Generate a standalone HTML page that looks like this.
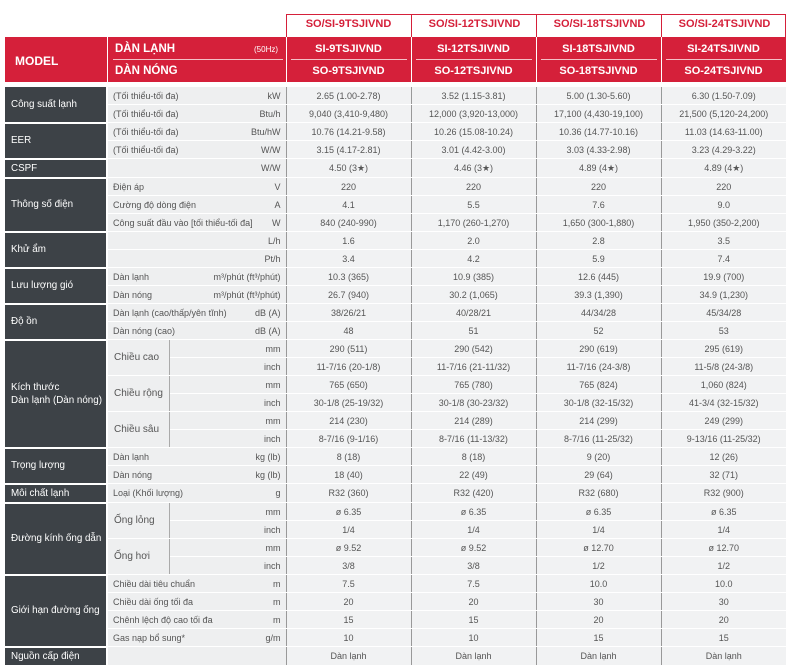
<!DOCTYPE html>
<html><head><meta charset="utf-8"><style>
body{margin:0;background:#fff;width:789px;height:668px;overflow:hidden;font-family:"Liberation Sans",sans-serif;position:relative}
.hd{position:absolute;font-weight:bold}
table{position:absolute;left:5px;top:87px;border-collapse:collapse;table-layout:fixed;width:781px;font-size:9px;color:#555}
td{height:17px;padding:0;border-bottom:1px solid #fff;background:#eeeff0;white-space:nowrap;overflow:hidden}
td.k{background:#3d4247;color:#fff;font-size:9.8px;padding-left:6px;border-bottom:2px solid #fff;border-right:2px solid #fff;line-height:13px}
td.m{padding:0 5px}
td.m span{float:right}
td.s{padding-left:6px;border-right:1px solid #aaa;font-size:10px}
td.u{text-align:right;padding-right:5px}
td.d{text-align:center;border-left:1px solid #999;background:#f1f2f3}
</style></head><body>
<div style="position:absolute;left:286px;top:14px;width:500px;height:23px;border:1px solid #d5203a;border-bottom:none;box-sizing:border-box"></div>
<div class="hd" style="left:286px;top:18px;width:125px;text-align:center;color:#d5203a;font-size:11px">SO/SI-9TSJIVND</div>
<div class="hd" style="left:411px;top:18px;width:125px;text-align:center;color:#d5203a;font-size:11px;border-left:1px solid #d5203a;margin-top:-4px;padding-top:4px;height:19px">SO/SI-12TSJIVND</div>
<div class="hd" style="left:536px;top:18px;width:125px;text-align:center;color:#d5203a;font-size:11px;border-left:1px solid #d5203a;margin-top:-4px;padding-top:4px;height:19px">SO/SI-18TSJIVND</div>
<div class="hd" style="left:661px;top:18px;width:125px;text-align:center;color:#d5203a;font-size:11px;border-left:1px solid #d5203a;margin-top:-4px;padding-top:4px;height:19px">SO/SI-24TSJIVND</div>
<div style="position:absolute;left:5px;top:37px;width:781px;height:45px;background:#d5203a"></div>
<div style="position:absolute;left:107px;top:37px;width:1px;height:45px;background:#fff"></div>
<div style="position:absolute;left:286px;top:37px;width:1px;height:45px;background:#fff"></div>
<div style="position:absolute;left:411px;top:37px;width:1px;height:45px;background:#fff"></div>
<div style="position:absolute;left:536px;top:37px;width:1px;height:45px;background:#fff"></div>
<div style="position:absolute;left:661px;top:37px;width:1px;height:45px;background:#fff"></div>
<div style="position:absolute;left:113px;top:59px;width:170px;height:1px;background:#f4c0c6"></div>
<div style="position:absolute;left:291px;top:59px;width:116px;height:1px;background:#f4c0c6"></div>
<div style="position:absolute;left:416px;top:59px;width:116px;height:1px;background:#f4c0c6"></div>
<div style="position:absolute;left:541px;top:59px;width:116px;height:1px;background:#f4c0c6"></div>
<div style="position:absolute;left:666px;top:59px;width:116px;height:1px;background:#f4c0c6"></div>
<div class="hd" style="left:15px;top:54px;color:#fff;font-size:12px">MODEL</div>
<div class="hd" style="left:115px;top:43px;color:#fff;font-size:11.5px">DÀN LẠNH</div>
<div style="position:absolute;left:254px;top:45px;color:#fff;font-size:8px">(50Hz)</div>
<div class="hd" style="left:115px;top:65px;color:#fff;font-size:11.5px">DÀN NÓNG</div>
<div class="hd" style="left:286px;top:43px;width:125px;text-align:center;color:#fff;font-size:11px">SI-9TSJIVND</div>
<div class="hd" style="left:411px;top:43px;width:125px;text-align:center;color:#fff;font-size:11px">SI-12TSJIVND</div>
<div class="hd" style="left:536px;top:43px;width:125px;text-align:center;color:#fff;font-size:11px">SI-18TSJIVND</div>
<div class="hd" style="left:661px;top:43px;width:125px;text-align:center;color:#fff;font-size:11px">SI-24TSJIVND</div>
<div class="hd" style="left:286px;top:65px;width:125px;text-align:center;color:#fff;font-size:11px">SO-9TSJIVND</div>
<div class="hd" style="left:411px;top:65px;width:125px;text-align:center;color:#fff;font-size:11px">SO-12TSJIVND</div>
<div class="hd" style="left:536px;top:65px;width:125px;text-align:center;color:#fff;font-size:11px">SO-18TSJIVND</div>
<div class="hd" style="left:661px;top:65px;width:125px;text-align:center;color:#fff;font-size:11px">SO-24TSJIVND</div>
<table>
<colgroup><col style="width:102px"><col style="width:62px"><col style="width:117px"><col style="width:125px"><col style="width:125px"><col style="width:125px"><col style="width:125px"></colgroup>
<tr><td class="k" rowspan="2">Công suất lạnh</td><td class="m" colspan="2">(Tối thiểu-tối đa)<span>kW</span></td><td class="d">2.65 (1.00-2.78)</td><td class="d">3.52 (1.15-3.81)</td><td class="d">5.00 (1.30-5.60)</td><td class="d">6.30 (1.50-7.09)</td></tr>
<tr><td class="m" colspan="2">(Tối thiểu-tối đa)<span>Btu/h</span></td><td class="d">9,040 (3,410-9,480)</td><td class="d">12,000 (3,920-13,000)</td><td class="d">17,100 (4,430-19,100)</td><td class="d">21,500 (5,120-24,200)</td></tr>
<tr><td class="k" rowspan="2">EER</td><td class="m" colspan="2">(Tối thiểu-tối đa)<span>Btu/hW</span></td><td class="d">10.76 (14.21-9.58)</td><td class="d">10.26 (15.08-10.24)</td><td class="d">10.36 (14.77-10.16)</td><td class="d">11.03 (14.63-11.00)</td></tr>
<tr><td class="m" colspan="2">(Tối thiểu-tối đa)<span>W/W</span></td><td class="d">3.15 (4.17-2.81)</td><td class="d">3.01 (4.42-3.00)</td><td class="d">3.03 (4.33-2.98)</td><td class="d">3.23 (4.29-3.22)</td></tr>
<tr><td class="k">CSPF</td><td class="m" colspan="2"><span>W/W</span></td><td class="d">4.50 (3★)</td><td class="d">4.46 (3★)</td><td class="d">4.89 (4★)</td><td class="d">4.89 (4★)</td></tr>
<tr><td class="k" rowspan="3">Thông số điện</td><td class="m" colspan="2">Điện áp<span>V</span></td><td class="d">220</td><td class="d">220</td><td class="d">220</td><td class="d">220</td></tr>
<tr><td class="m" colspan="2">Cường độ dòng điện<span>A</span></td><td class="d">4.1</td><td class="d">5.5</td><td class="d">7.6</td><td class="d">9.0</td></tr>
<tr><td class="m" colspan="2">Công suất đầu vào [tối thiểu-tối đa]<span>W</span></td><td class="d">840 (240-990)</td><td class="d">1,170 (260-1,270)</td><td class="d">1,650 (300-1,880)</td><td class="d">1,950 (350-2,200)</td></tr>
<tr><td class="k" rowspan="2">Khử ẩm</td><td class="m" colspan="2"><span>L/h</span></td><td class="d">1.6</td><td class="d">2.0</td><td class="d">2.8</td><td class="d">3.5</td></tr>
<tr><td class="m" colspan="2"><span>Pt/h</span></td><td class="d">3.4</td><td class="d">4.2</td><td class="d">5.9</td><td class="d">7.4</td></tr>
<tr><td class="k" rowspan="2">Lưu lượng gió</td><td class="m" colspan="2">Dàn lạnh<span>m³/phút (ft³/phút)</span></td><td class="d">10.3 (365)</td><td class="d">10.9 (385)</td><td class="d">12.6 (445)</td><td class="d">19.9 (700)</td></tr>
<tr><td class="m" colspan="2">Dàn nóng<span>m³/phút (ft³/phút)</span></td><td class="d">26.7 (940)</td><td class="d">30.2 (1,065)</td><td class="d">39.3 (1,390)</td><td class="d">34.9 (1,230)</td></tr>
<tr><td class="k" rowspan="2">Độ ồn</td><td class="m" colspan="2">Dàn lạnh (cao/thấp/yên tĩnh)<span>dB (A)</span></td><td class="d">38/26/21</td><td class="d">40/28/21</td><td class="d">44/34/28</td><td class="d">45/34/28</td></tr>
<tr><td class="m" colspan="2">Dàn nóng (cao)<span>dB (A)</span></td><td class="d">48</td><td class="d">51</td><td class="d">52</td><td class="d">53</td></tr>
<tr><td class="k" rowspan="6">Kích thước<br>Dàn lạnh (Dàn nóng)</td><td class="s" rowspan="2">Chiều cao</td><td class="u">mm</td><td class="d">290 (511)</td><td class="d">290 (542)</td><td class="d">290 (619)</td><td class="d">295 (619)</td></tr>
<tr><td class="u">inch</td><td class="d">11-7/16 (20-1/8)</td><td class="d">11-7/16 (21-11/32)</td><td class="d">11-7/16 (24-3/8)</td><td class="d">11-5/8 (24-3/8)</td></tr>
<tr><td class="s" rowspan="2">Chiều rộng</td><td class="u">mm</td><td class="d">765 (650)</td><td class="d">765 (780)</td><td class="d">765 (824)</td><td class="d">1,060 (824)</td></tr>
<tr><td class="u">inch</td><td class="d">30-1/8 (25-19/32)</td><td class="d">30-1/8 (30-23/32)</td><td class="d">30-1/8 (32-15/32)</td><td class="d">41-3/4 (32-15/32)</td></tr>
<tr><td class="s" rowspan="2">Chiều sâu</td><td class="u">mm</td><td class="d">214 (230)</td><td class="d">214 (289)</td><td class="d">214 (299)</td><td class="d">249 (299)</td></tr>
<tr><td class="u">inch</td><td class="d">8-7/16 (9-1/16)</td><td class="d">8-7/16 (11-13/32)</td><td class="d">8-7/16 (11-25/32)</td><td class="d">9-13/16 (11-25/32)</td></tr>
<tr><td class="k" rowspan="2">Trọng lượng</td><td class="m" colspan="2">Dàn lạnh<span>kg (lb)</span></td><td class="d">8 (18)</td><td class="d">8 (18)</td><td class="d">9 (20)</td><td class="d">12 (26)</td></tr>
<tr><td class="m" colspan="2">Dàn nóng<span>kg (lb)</span></td><td class="d">18 (40)</td><td class="d">22 (49)</td><td class="d">29 (64)</td><td class="d">32 (71)</td></tr>
<tr><td class="k">Môi chất lạnh</td><td class="m" colspan="2">Loại (Khối lượng)<span>g</span></td><td class="d">R32 (360)</td><td class="d">R32 (420)</td><td class="d">R32 (680)</td><td class="d">R32 (900)</td></tr>
<tr><td class="k" rowspan="4">Đường kính ống dẫn</td><td class="s" rowspan="2">Ống lỏng</td><td class="u">mm</td><td class="d">ø 6.35</td><td class="d">ø 6.35</td><td class="d">ø 6.35</td><td class="d">ø 6.35</td></tr>
<tr><td class="u">inch</td><td class="d">1/4</td><td class="d">1/4</td><td class="d">1/4</td><td class="d">1/4</td></tr>
<tr><td class="s" rowspan="2">Ống hơi</td><td class="u">mm</td><td class="d">ø 9.52</td><td class="d">ø 9.52</td><td class="d">ø 12.70</td><td class="d">ø 12.70</td></tr>
<tr><td class="u">inch</td><td class="d">3/8</td><td class="d">3/8</td><td class="d">1/2</td><td class="d">1/2</td></tr>
<tr><td class="k" rowspan="4">Giới hạn đường ống</td><td class="m" colspan="2">Chiều dài tiêu chuẩn<span>m</span></td><td class="d">7.5</td><td class="d">7.5</td><td class="d">10.0</td><td class="d">10.0</td></tr>
<tr><td class="m" colspan="2">Chiều dài ống tối đa<span>m</span></td><td class="d">20</td><td class="d">20</td><td class="d">30</td><td class="d">30</td></tr>
<tr><td class="m" colspan="2">Chênh lệch độ cao tối đa<span>m</span></td><td class="d">15</td><td class="d">15</td><td class="d">20</td><td class="d">20</td></tr>
<tr><td class="m" colspan="2">Gas nạp bổ sung*<span>g/m</span></td><td class="d">10</td><td class="d">10</td><td class="d">15</td><td class="d">15</td></tr>
<tr><td class="k">Nguồn cấp điện</td><td class="m" colspan="2"></td><td class="d">Dàn lạnh</td><td class="d">Dàn lạnh</td><td class="d">Dàn lạnh</td><td class="d">Dàn lạnh</td></tr>
</table>
</body></html>
